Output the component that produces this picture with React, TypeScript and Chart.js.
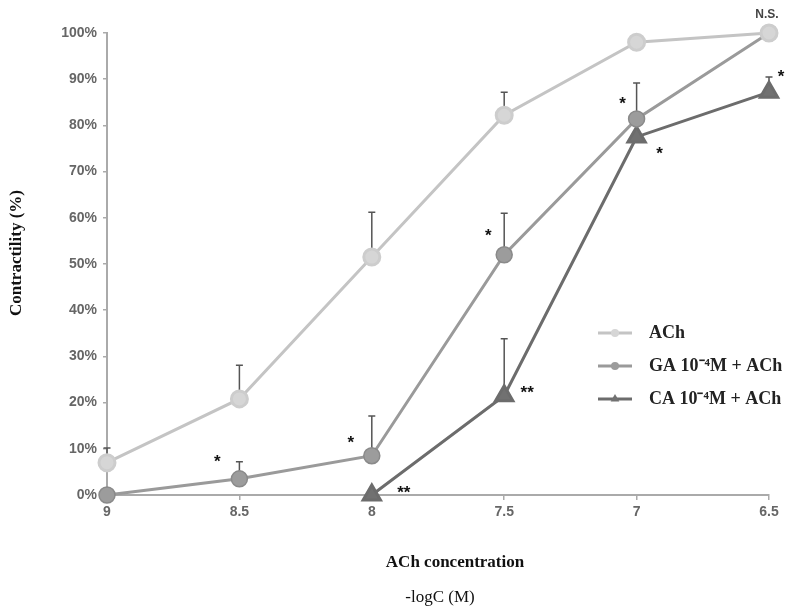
import { useEffect, useRef } from "react";
import { Chart, registerables } from "chart.js";

Chart.register(...registerables);

// ---- data ----
const concentrations = [9, 8.5, 8, 7.5, 7, 6.5];
const xTickLabels = ["9", "8.5", "8", "7.5", "7", "6.5"];
const seriesLabels = ["ACh", "GA 10⁻⁴M + ACh", "CA 10⁻⁴M + ACh"];
const achValues = [7, 20.8, 51.5, 82.2, 98, 100];
const achErrors = [3.2, 7.3, 9.7, 5.0, 0, 0];
const gaValues = [0, 3.5, 8.5, 52, 81.4, 100];
const gaErrors = [0, 3.7, 8.6, 9, 7.8, 0];
const caValues: (number | null)[] = [null, null, 0, 21.5, 77.5, 87.2];
const caErrors: (number | null)[] = [null, null, 0, 12.3, 0, 3.3];
const achMarks = ["", "", "", "", "", "N.S."];
const gaMarks = ["", "*", "*", "*", "*", ""];
const caMarks = ["", "", "**", "**", "*", "*"];
const yAxisTitle = "Contractility (%)";
const xAxisTitle = "ACh concentration";
const xAxisSubtitle = "-logC (M)";

const allErrors = [achErrors, gaErrors, caErrors];
const allMarks = [achMarks, gaMarks, caMarks];

// pixel offsets of significance marks relative to their point
const markOffsets: Record<string, [number, number]> = {
  "0-5": [-2, -18],
  "1-1": [-22, -21],
  "1-2": [-21, -17],
  "1-3": [-16, -23],
  "1-4": [-14, -19],
  "2-2": [32, -7],
  "2-3": [23, -7],
  "2-4": [23, 13],
  "2-5": [12, -20],
};

const errorBarPlugin = {
  id: "errorBars",
  beforeDatasetsDraw(chart: any) {
    const { ctx, scales } = chart;
    const xs = scales.x;
    const ys = scales.y;
    ctx.save();
    ctx.strokeStyle = "#555";
    ctx.lineWidth = 1.5;
    chart.data.datasets.forEach((ds: any, di: number) => {
      ds.data.forEach((p: any, i: number) => {
        const e = allErrors[di][i];
        if (p.y == null || !e) return;
        const px = xs.getPixelForValue(p.x);
        const py0 = ys.getPixelForValue(p.y);
        const py1 = ys.getPixelForValue(p.y + e);
        ctx.beginPath();
        ctx.moveTo(px, py0);
        ctx.lineTo(px, py1);
        ctx.moveTo(px - 3.5, py1);
        ctx.lineTo(px + 3.5, py1);
        ctx.stroke();
      });
    });
    ctx.restore();
  },
};

const annotationPlugin = {
  id: "annotations",
  afterDraw(chart: any) {
    const { ctx, scales } = chart;
    const xs = scales.x;
    const ys = scales.y;
    ctx.save();
    // significance marks
    chart.data.datasets.forEach((ds: any, di: number) => {
      ds.data.forEach((p: any, i: number) => {
        const m = allMarks[di][i];
        if (!m || p.y == null) return;
        const off = markOffsets[di + "-" + i] || [0, -15];
        const px = xs.getPixelForValue(p.x) + off[0];
        const py = ys.getPixelForValue(p.y) + off[1];
        ctx.textAlign = "center";
        if (m === "N.S.") {
          ctx.fillStyle = "#444";
          ctx.font = "bold 12px 'Liberation Sans', Arial, sans-serif";
          ctx.textBaseline = "middle";
          ctx.fillText(m, px, py);
        } else {
          ctx.fillStyle = "#111";
          ctx.font = "bold 17px 'Liberation Sans', Arial, sans-serif";
          ctx.textBaseline = "alphabetic";
          ctx.fillText(m, px, py + 9.5);
        }
      });
    });

    // axis titles
    ctx.fillStyle = "#111";
    ctx.font = "bold 17px 'Liberation Serif', 'Times New Roman', serif";
    ctx.textAlign = "center";
    ctx.textBaseline = "middle";
    ctx.save();
    ctx.translate(17, 253);
    ctx.rotate(-Math.PI / 2);
    ctx.fillText(yAxisTitle, 0, 0);
    ctx.restore();
    ctx.fillText(xAxisTitle, 455, 563);
    ctx.font = "17px 'Liberation Serif', 'Times New Roman', serif";
    ctx.fillText(xAxisSubtitle, 440, 598);

    // legend
    const lx = 598;
    const ly = 333;
    chart.data.datasets.forEach((ds: any, di: number) => {
      const y = ly + di * 33;
      ctx.strokeStyle = ds.borderColor;
      ctx.lineWidth = 3;
      ctx.beginPath();
      ctx.moveTo(lx, y);
      ctx.lineTo(lx + 34, y);
      ctx.stroke();
      ctx.fillStyle = ds.pointBackgroundColor;
      ctx.beginPath();
      if (ds.pointStyle === "triangle") {
        const r = 5;
        ctx.moveTo(lx + 17, y - r);
        ctx.lineTo(lx + 17 + r * 0.87, y + r * 0.5);
        ctx.lineTo(lx + 17 - r * 0.87, y + r * 0.5);
        ctx.closePath();
      } else {
        ctx.arc(lx + 17, y, 4, 0, Math.PI * 2);
      }
      ctx.fill();
      ctx.fillStyle = "#222";
      ctx.font = "bold 18px 'Liberation Serif', 'Times New Roman', serif";
      ctx.textAlign = "left";
      ctx.textBaseline = "middle";
      ctx.fillText(ds.label, lx + 51, y);
    });
    ctx.restore();
  },
};

export default function App() {
  const canvasRef = useRef<HTMLCanvasElement | null>(null);

  useEffect(() => {
    if (!canvasRef.current) return;
    const toPoints = (vals: (number | null)[]) =>
      concentrations.map((x, i) => ({ x, y: vals[i] }));
    const tickFont = { family: "'Liberation Sans', Arial, sans-serif", size: 14, weight: "bold" as const };
    const chart = new Chart(canvasRef.current, {
      type: "line",
      data: {
        datasets: [
          {
            label: seriesLabels[0],
            data: toPoints(achValues) as any,
            borderColor: "#c4c4c4",
            backgroundColor: "#d4d4d4",
            pointBackgroundColor: "#d6d6d6",
            pointBorderColor: "#cdcdcd",
            pointStyle: "circle",
            pointRadius: 8,
            borderWidth: 3,
            clip: false as any,
          },
          {
            label: seriesLabels[1],
            data: toPoints(gaValues) as any,
            borderColor: "#9a9a9a",
            backgroundColor: "#9c9c9c",
            pointBackgroundColor: "#9c9c9c",
            pointBorderColor: "#8a8a8a",
            pointStyle: "circle",
            pointRadius: 8,
            pointBorderWidth: 1.5,
            borderWidth: 3,
            clip: false as any,
          },
          {
            label: seriesLabels[2],
            data: toPoints(caValues) as any,
            borderColor: "#6c6c6c",
            backgroundColor: "#717171",
            pointBackgroundColor: "#717171",
            pointBorderColor: "#6c6c6c",
            pointStyle: "triangle",
            pointRadius: 10,
            borderWidth: 3,
            clip: false as any,
          },
        ],
      },
      options: {
        animation: false,
        responsive: true,
        maintainAspectRatio: false,
        layout: { padding: { top: 33, right: 19, left: 0, bottom: 0 } },
        plugins: {
          legend: { display: false },
          tooltip: { enabled: false },
        },
        scales: {
          x: {
            type: "linear",
            reverse: true,
            min: 6.5,
            max: 9,
            afterBuildTicks: (s: any) => {
              s.ticks = concentrations.map((v) => ({ value: v }));
            },
            afterFit: (s: any) => {
              s.height = 115;
            },
            ticks: {
              autoSkip: false,
              maxRotation: 0,
              padding: 4,
              color: "#666",
              font: tickFont,
              callback: (v: any) => {
                const i = concentrations.indexOf(Number(v));
                return i >= 0 ? xTickLabels[i] : "";
              },
            },
            grid: { drawOnChartArea: false, drawTicks: true, tickLength: 5, color: "#aaa", lineWidth: 1.5 },
            border: { color: "#aaa", width: 2 },
          },
          y: {
            min: 0,
            max: 100,
            afterFit: (s: any) => {
              s.width = 107;
            },
            ticks: {
              stepSize: 10,
              padding: 6,
              color: "#666",
              font: tickFont,
              callback: (v: any) => v + "%",
            },
            grid: { drawOnChartArea: false, drawTicks: true, tickLength: 4, color: "#aaa", lineWidth: 1.5 },
            border: { color: "#aaa", width: 2 },
          },
        },
      },
      plugins: [errorBarPlugin, annotationPlugin],
    });
    return () => chart.destroy();
  }, []);

  return (
    <div style={{ position: "fixed", left: 0, top: 0, width: 788, height: 610, background: "#fff" }}>
      <canvas ref={canvasRef} />
    </div>
  );
}
